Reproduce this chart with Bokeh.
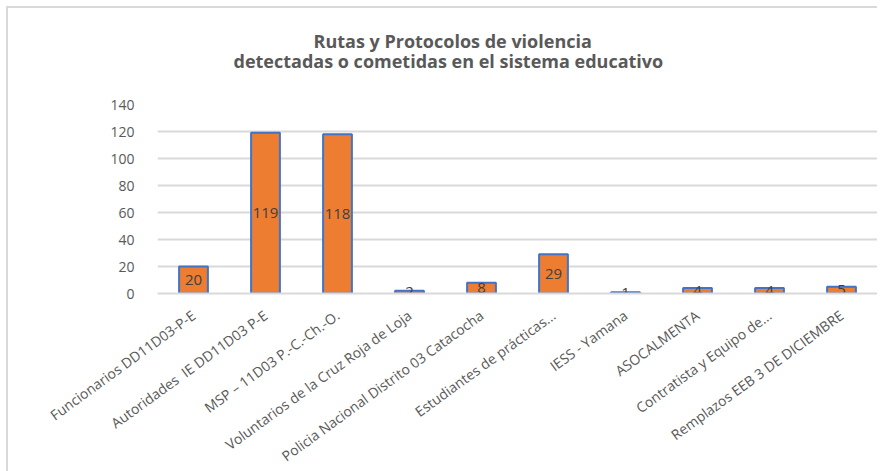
import math
from bokeh.plotting import figure
from bokeh.models import ColumnDataSource, Range1d, FixedTicker, Title
from bokeh.core.properties import value
from bokeh.embed import file_html
from bokeh.resources import INLINE

categories = [
    "Funcionarios DD11D03-P-E",
    "Autoridades \u00a0IE DD11D03 P-E",
    "MSP \u2013 11D03 P.-C.-Ch.-O.",
    "Voluntarios de la Cruz Roja de Loja",
    "Policia Nacional Distrito 03 Catacocha",
    "Estudiantes de pr\u00e1cticas...",
    "IESS - Yamana",
    "ASOCALMENTA",
    "Contratista y Equipo de...",
    "Remplazos EEB 3 DE DICIEMBRE",
]
values = [20, 119, 118, 2, 8, 29, 1, 4, 4, 5]
y_ticks = [0, 20, 40, 60, 80, 100, 120, 140]
title_lines = ["Rutas y Protocolos de violencia",
               "detectadas o cometidas en el sistema educativo"]

src = ColumnDataSource(dict(cat=categories, val=values,
                            mid=[v / 2 for v in values],
                            lab=[str(v) for v in values]))

FONT = "Open Sans"
GREY = "#595959"

p = figure(x_range=categories, y_range=Range1d(0, 140),
           frame_width=720, frame_height=189, output_backend="svg",
           toolbar_location=None, title=None,
           min_border_left=149, min_border_right=0,
           min_border_bottom=170, min_border_top=96)
p.styles = {"border-top": "2px solid #d9d9d9",
            "border-left": "2px solid #d9d9d9",
            "margin-left": "6px", "margin-top": "6px"}

p.vbar(x="cat", top="val", width=0.4, source=src,
       fill_color="#ED7D31", line_color="#4472C4", line_width=2)
p.text(x="cat", y="mid", text="lab", source=src,
       text_align="center", text_baseline="middle",
       text_font=value(FONT), text_font_size="15px", text_color="#404040")

# spacer panel between plot area and the title lines
t0 = Title(text=" ", align="left", standoff=16,
           text_font=FONT, text_font_size="10px")
t2 = Title(text=title_lines[1], align="left", offset=76,
           vertical_align="bottom", standoff=0,
           text_font=FONT, text_font_size="18px",
           text_font_style="bold", text_color=GREY)
t1 = Title(text=title_lines[0], align="left", offset=156,
           vertical_align="bottom", standoff=-12,
           text_font=FONT, text_font_size="18px",
           text_font_style="bold", text_color=GREY)
p.add_layout(t0, "above")
p.add_layout(t2, "above")
p.add_layout(t1, "above")

p.yaxis.ticker = FixedTicker(ticks=y_ticks)
p.yaxis.axis_line_color = None
p.yaxis.major_tick_line_color = None
p.yaxis.minor_tick_line_color = None
p.yaxis.major_label_standoff = 17
p.yaxis.major_label_text_font = FONT
p.yaxis.major_label_text_font_size = "14px"
p.yaxis.major_label_text_color = GREY

p.xaxis.axis_line_color = "#d9d9d9"
p.xaxis.axis_line_width = 2
p.xaxis.major_tick_line_color = None
p.xaxis.minor_tick_line_color = None
p.xaxis.major_label_orientation = math.radians(36)
p.xaxis.major_label_standoff = 14
p.xaxis.major_label_text_font = FONT
p.xaxis.major_label_text_font_size = "14px"
p.xaxis.major_label_text_color = GREY

p.xgrid.grid_line_color = None
p.ygrid.grid_line_color = "#d9d9d9"
p.ygrid.grid_line_width = 2
p.ygrid.ticker = FixedTicker(ticks=y_ticks)
p.outline_line_color = None
p.x_range.range_padding = 0

open("out.html", "w").write(file_html(p, INLINE))
